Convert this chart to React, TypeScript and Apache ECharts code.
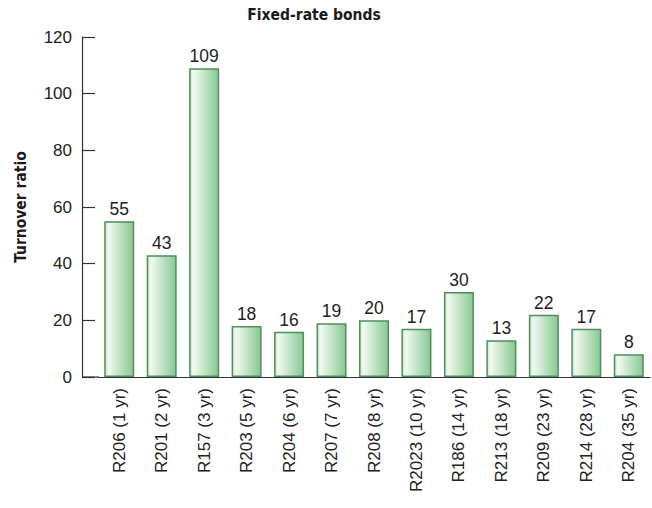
import React, { useEffect, useRef } from "react";
import * as echarts from "echarts";

const categories = [
  "R206 (1 yr)", "R201 (2 yr)", "R157 (3 yr)", "R203 (5 yr)", "R204 (6 yr)",
  "R207 (7 yr)", "R208 (8 yr)", "R2023 (10 yr)", "R186 (14 yr)", "R213 (18 yr)",
  "R209 (23 yr)", "R214 (28 yr)", "R204 (35 yr)",
];
const turnover = [55, 43, 109, 18, 16, 19, 20, 17, 30, 13, 22, 17, 8];
const yTicks = { min: 0, max: 120, interval: 20 };

export default function App() {
  const ref = useRef<HTMLDivElement>(null);
  useEffect(() => {
    if (!ref.current) return;
    const chart = echarts.init(ref.current, undefined, { renderer: "svg" });
    const narrow = "'DejaVu Sans Condensed', 'Liberation Sans Narrow', Arial, sans-serif";
    const sans = "'Liberation Sans', Arial, sans-serif";
    chart.setOption({
      animation: false,
      backgroundColor: "#ffffff",
      title: {
        text: "Fixed-rate bonds",
        left: 309,
        textAlign: "center",
        top: 2,
        textStyle: { fontFamily: narrow, fontWeight: "bold", fontSize: 15.5, color: "#1a1a1a" },
      },
      grid: { left: 98, right: 2, top: 37, bottom: 131, containLabel: false },
      xAxis: {
        type: "category",
        data: categories,
        boundaryGap: true,
        axisLine: { show: true, lineStyle: { color: "#333", width: 1.2 } },
        axisTick: { show: false },
        axisLabel: {
          rotate: 90,
          margin: 11,
          fontFamily: sans,
          fontSize: 17,
          color: "#222",
          interval: 0,
        },
      },
      yAxis: {
        type: "value",
        min: yTicks.min,
        max: yTicks.max,
        interval: yTicks.interval,
        offset: 16,
        name: "Turnover ratio",
        nameLocation: "middle",
        nameGap: 53,
        nameRotate: 90,
        nameTextStyle: { fontFamily: narrow, fontWeight: "bold", fontSize: 15.5, color: "#1a1a1a" },
        axisLine: { show: true, lineStyle: { color: "#333", width: 1.2 } },
        axisTick: { show: true, inside: true, length: 13, lineStyle: { color: "#333", width: 1.2 } },
        splitLine: { show: false },
        axisLabel: { margin: 10, fontFamily: sans, fontSize: 17, color: "#222" },
      },
      graphic: [
        {
          type: "line",
          shape: { x1: 82, y1: 377, x2: 99, y2: 377 },
          style: { stroke: "#333", lineWidth: 1.2 },
          z: 10,
        },
      ],
      series: [
        {
          type: "bar",
          data: turnover,
          barWidth: 30,
          itemStyle: {
            borderColor: "#4f8f5c",
            borderWidth: 1.5,
            color: new echarts.graphic.LinearGradient(0, 0, 1, 0, [
              { offset: 0, color: "#c8e6cc" },
              { offset: 0.12, color: "#f2faf2" },
              { offset: 1, color: "#86c892" },
            ]),
          },
          label: {
            show: true,
            position: "top",
            distance: 3,
            fontFamily: sans,
            fontSize: 17.5,
            color: "#222",
          },
        },
      ],
    });
    return () => chart.dispose();
  }, []);
  return (
    <div
      ref={ref}
      style={{ position: "fixed", left: 0, top: 0, width: 652, height: 508 }}
    />
  );
}
